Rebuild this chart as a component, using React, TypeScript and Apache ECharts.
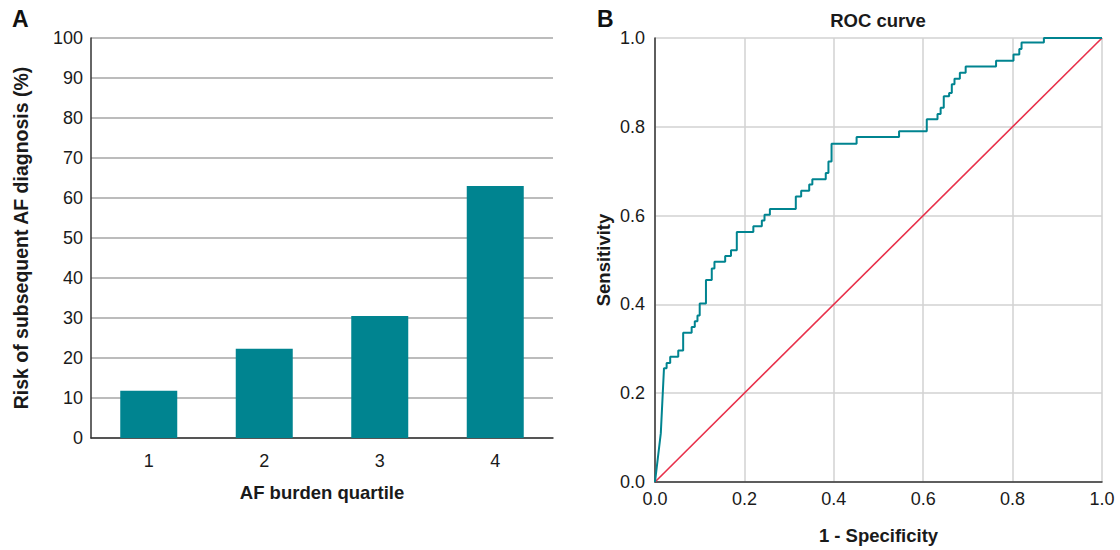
import React, { useEffect, useRef } from "react";
import * as echarts from "echarts";

const quartiles = ["1", "2", "3", "4"];
const afRisk = [11.8, 22.3, 30.5, 63.0];
const riskTicks = { min: 0, max: 100, interval: 10 };

// ROC curve vertices (1 - specificity, sensitivity)
const rocFpr = [
  0, 0.013, 0.02, 0.02, 0.026, 0.026, 0.034, 0.034, 0.052, 0.052, 0.063, 0.063, 0.082, 0.082,
  0.089, 0.089, 0.095, 0.095, 0.1, 0.1, 0.114, 0.114, 0.127, 0.127, 0.133, 0.133, 0.157, 0.157,
  0.17, 0.17, 0.183, 0.183, 0.22, 0.22, 0.239, 0.239, 0.245, 0.245, 0.257, 0.257, 0.315, 0.315,
  0.327, 0.327, 0.345, 0.345, 0.352, 0.352, 0.382, 0.382, 0.388, 0.388, 0.395, 0.395, 0.451,
  0.451, 0.546, 0.546, 0.608, 0.608, 0.632, 0.632, 0.639, 0.639, 0.646, 0.646, 0.658, 0.658,
  0.664, 0.664, 0.67, 0.67, 0.682, 0.682, 0.695, 0.695, 0.763, 0.763, 0.802, 0.802, 0.815,
  0.815, 0.82, 0.82, 0.87, 0.87, 1.0,
];
const rocTpr = [
  0, 0.11, 0.254, 0.256, 0.256, 0.268, 0.268, 0.282, 0.282, 0.296, 0.296, 0.336, 0.336, 0.349,
  0.349, 0.362, 0.362, 0.375, 0.375, 0.402, 0.402, 0.455, 0.455, 0.481, 0.481, 0.496, 0.496,
  0.509, 0.509, 0.522, 0.522, 0.563, 0.563, 0.576, 0.576, 0.589, 0.589, 0.602, 0.602, 0.615,
  0.615, 0.643, 0.643, 0.656, 0.656, 0.67, 0.67, 0.682, 0.682, 0.696, 0.696, 0.722, 0.722,
  0.762, 0.762, 0.777, 0.777, 0.79, 0.79, 0.817, 0.817, 0.829, 0.829, 0.843, 0.843, 0.869,
  0.869, 0.876, 0.876, 0.896, 0.896, 0.908, 0.908, 0.922, 0.922, 0.936, 0.936, 0.949, 0.949,
  0.963, 0.963, 0.975, 0.975, 0.99, 0.99, 1.0, 1.0,
];
const refX = [0, 1];
const refY = [0, 1];

const FONT = "Liberation Sans, Arial, sans-serif";
const TEAL = "#008490";
const RED = "#e8304a";

export default function App() {
  const ref = useRef<HTMLDivElement>(null);
  useEffect(() => {
    if (!ref.current) return;
    const chart = echarts.init(ref.current, undefined, { renderer: "svg" });
    const labelStyle = { fontSize: 18, color: "#1a1a1a", fontFamily: FONT };
    const nameStyle = { fontSize: 18.5, fontWeight: "bold" as const, color: "#1a1a1a", fontFamily: FONT };
    chart.setOption({
      animation: false,
      textStyle: { fontFamily: FONT },
      graphic: [
        { type: "text", left: 12, top: 7, style: { text: "A", fontSize: 23, fontWeight: "bold", fill: "#111", fontFamily: FONT } },
        { type: "text", left: 597, top: 7, style: { text: "B", fontSize: 23, fontWeight: "bold", fill: "#111", fontFamily: FONT } },
        { type: "text", x: 878, y: 11, style: { text: "ROC curve", fontSize: 18.5, fontWeight: "bold", fill: "#1a1a1a", fontFamily: FONT, align: "center" } },
      ],
      grid: [
        { left: 91, top: 38, width: 462, height: 400 },
        { left: 655, top: 38, width: 447, height: 447 },
      ],
      xAxis: [
        {
          gridIndex: 0,
          type: "category",
          data: quartiles,
          axisLine: { lineStyle: { color: "#333", width: 1.5 } },
          axisTick: { show: false },
          axisLabel: { ...labelStyle, margin: 14 },
          name: "AF burden quartile",
          nameLocation: "middle",
          nameGap: 45,
          nameTextStyle: nameStyle,
        },
        {
          gridIndex: 1,
          type: "value",
          min: 0,
          max: 1,
          interval: 0.2,
          axisLine: { lineStyle: { color: "#333", width: 1.5 } },
          axisTick: { show: false },
          axisLabel: { ...labelStyle, margin: 8, formatter: (v: number) => v.toFixed(1) },
          splitLine: { show: true, lineStyle: { color: "#d2d2d2", width: 1.5 } },
          name: "1 - Specificity",
          nameLocation: "middle",
          nameGap: 44,
          nameTextStyle: nameStyle,
        },
      ],
      yAxis: [
        {
          gridIndex: 0,
          type: "value",
          ...riskTicks,
          axisLine: { show: true, lineStyle: { color: "#333", width: 1.5 } },
          axisTick: { show: false },
          axisLabel: { ...labelStyle, margin: 8 },
          splitLine: { lineStyle: { color: "#a6a6a6", width: 1.5 } },
          name: "Risk of subsequent AF diagnosis (%)",
          nameLocation: "middle",
          nameGap: 60,
          nameTextStyle: { ...nameStyle, fontSize: 19.5 },
        },
        {
          gridIndex: 1,
          type: "value",
          min: 0,
          max: 1,
          interval: 0.2,
          axisLine: { show: true, lineStyle: { color: "#333", width: 1.5 } },
          axisTick: { show: false },
          axisLabel: { ...labelStyle, margin: 10, formatter: (v: number) => v.toFixed(1) },
          splitLine: { lineStyle: { color: "#d2d2d2", width: 1.5 } },
          name: "Sensitivity",
          nameLocation: "middle",
          nameGap: 42,
          nameTextStyle: nameStyle,
        },
      ],
      series: [
        {
          type: "bar",
          xAxisIndex: 0,
          yAxisIndex: 0,
          data: afRisk,
          barWidth: 57,
          itemStyle: { color: TEAL },
        },
        {
          type: "line",
          xAxisIndex: 1,
          yAxisIndex: 1,
          data: refX.map((x, i) => [x, refY[i]]),
          showSymbol: false,
          lineStyle: { color: RED, width: 1.6 },
          z: 2,
        },
        {
          type: "line",
          xAxisIndex: 1,
          yAxisIndex: 1,
          data: rocFpr.map((x, i) => [x, rocTpr[i]]),
          showSymbol: false,
          lineStyle: { color: TEAL, width: 2 },
          z: 3,
        },
      ],
    });
    return () => chart.dispose();
  }, []);
  return <div ref={ref} style={{ width: 1120, height: 550, position: "absolute", left: 0, top: 0 }} />;
}
